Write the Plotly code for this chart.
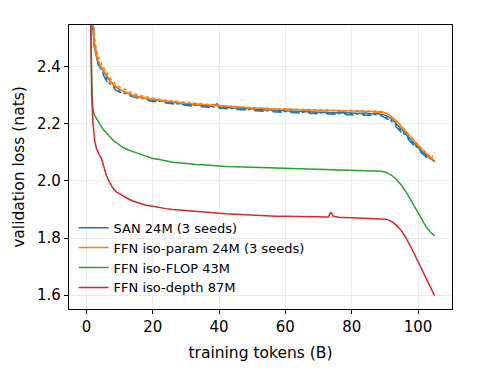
import plotly.graph_objects as go

# ---------------- data ----------------
# SAN 24M, seed 1 (solid)
san1_x = [0.3,0.8,1.3,1.8,2.3,2.8,3.3,3.8,4.5,5.5,6.5,7.5,8.5,9.5,11,12.5,14,16,18,20,22,24,26,28,30,32,34,36,38,39.4,40,42,44,46,48,50,52,54,56,58,60,62,64,66,68,70,72,74,76,78,80,82,84,86,88,89.5,91,92.5,94,95.5,97,98.5,100,101.5,103,104,105]
san1_y = [3.4,3.0,2.72,2.56,2.48,2.445,2.425,2.41,2.395,2.375,2.36,2.345,2.333,2.325,2.316,2.307,2.301,2.294,2.289,2.284,2.282,2.277,2.276,2.272,2.270,2.268,2.267,2.264,2.262,2.271,2.260,2.259,2.256,2.256,2.253,2.252,2.251,2.249,2.249,2.247,2.246,2.245,2.243,2.244,2.242,2.241,2.241,2.239,2.240,2.238,2.238,2.237,2.238,2.236,2.236,2.233,2.226,2.212,2.195,2.175,2.155,2.135,2.118,2.100,2.085,2.076,2.068]

# SAN 24M, seeds 2 and 3
san23_x = [1,1.5,2,2.5,3,3.5,4,5,6,7,8,9,10,12,14,17,20,24,28,32,36,40,45,50,55,60,65,70,75,80,85,89,91,93,95,97,99,101,103,105]
san2_y = [3.0,2.7,2.53,2.46,2.43,2.41,2.395,2.372,2.352,2.337,2.326,2.318,2.312,2.302,2.295,2.286,2.279,2.273,2.267,2.263,2.259,2.255,2.251,2.247,2.243,2.240,2.238,2.236,2.234,2.232,2.231,2.228,2.215,2.195,2.170,2.145,2.120,2.098,2.080,2.065]
san3_y = [3.05,2.72,2.55,2.47,2.44,2.415,2.40,2.378,2.358,2.342,2.331,2.322,2.315,2.305,2.298,2.289,2.283,2.276,2.270,2.266,2.262,2.258,2.253,2.249,2.246,2.243,2.241,2.239,2.237,2.236,2.234,2.231,2.219,2.200,2.175,2.150,2.125,2.102,2.083,2.070]

# FFN iso-param 24M, seed 1 (solid)
par1_x = [0.5,1,1.5,2,2.5,3,3.5,4,5,6,7,8,9,10,11.5,13,15,17,20,23,26,30,34,38,42,46,50,54,58,62,66,70,74,78,82,86,89,90.5,92,93.5,95,96.5,98,99.5,101,102.5,104,105]
par1_y = [3.4,3.0,2.72,2.56,2.47,2.44,2.425,2.41,2.39,2.37,2.355,2.34,2.33,2.322,2.313,2.305,2.297,2.291,2.286,2.281,2.278,2.273,2.269,2.266,2.262,2.259,2.256,2.254,2.252,2.250,2.249,2.248,2.247,2.246,2.245,2.245,2.243,2.238,2.226,2.210,2.192,2.172,2.152,2.132,2.113,2.096,2.079,2.070]

# FFN iso-param 24M, seeds 2 and 3
par23_x = [1,1.5,2,2.5,3,3.5,4,5,6,7,8,9,10,12,14,17,20,24,28,32,36,40,45,50,55,60,65,70,75,80,85,89,91,93,95,97,99,101,103,104,105]
par2_y = [3.1,2.75,2.57,2.48,2.445,2.425,2.41,2.385,2.366,2.350,2.338,2.329,2.321,2.311,2.302,2.292,2.286,2.279,2.274,2.270,2.266,2.262,2.258,2.254,2.251,2.249,2.247,2.246,2.245,2.244,2.243,2.241,2.230,2.212,2.188,2.162,2.136,2.112,2.090,2.078,2.072]
par3_y = [3.15,2.78,2.59,2.50,2.46,2.44,2.425,2.40,2.382,2.362,2.350,2.338,2.33,2.318,2.308,2.297,2.291,2.283,2.278,2.273,2.269,2.265,2.261,2.257,2.254,2.252,2.250,2.249,2.248,2.247,2.246,2.244,2.234,2.216,2.192,2.166,2.140,2.115,2.092,2.078,2.100]

# FFN iso-FLOP 43M
flop_x = [0.3,0.8,1.2,1.6,1.9,2.3,3,3.5,4,5,6,7,8,9,10,11,12,13,14,16,18,20,22,24,26,28,30,33,36,39,42,45,48,51,54,57,60,63,66,69,72,75,78,81,84,87,89,90.5,92,93.5,95,96.5,98,99.5,101,102.5,104,105]
flop_y = [3.3,2.9,2.6,2.36,2.26,2.235,2.22,2.212,2.20,2.182,2.168,2.155,2.143,2.134,2.125,2.118,2.112,2.107,2.103,2.095,2.087,2.079,2.075,2.070,2.066,2.064,2.061,2.058,2.056,2.053,2.051,2.050,2.049,2.047,2.046,2.045,2.043,2.042,2.041,2.040,2.040,2.038,2.037,2.037,2.036,2.036,2.034,2.030,2.020,2.005,1.985,1.960,1.930,1.898,1.866,1.838,1.817,1.808]

# FFN iso-depth 87M
depth_x = [0.3,0.7,1,1.3,1.6,2,2.5,3,3.5,4,4.5,5,5.5,6,7,8,9,10,11,12,13,14,16,18,20,22,24,26,28,30,33,36,39,42,45,48,51,54,57,60,63,66,69,72,73,73.7,74.5,76,78,81,84,87,89,90.5,92,93.5,95,96.5,98,99.5,101,102.5,104,105]
depth_y = [3.4,3.0,2.7,2.45,2.3,2.2,2.14,2.115,2.10,2.09,2.08,2.06,2.04,2.02,1.995,1.975,1.962,1.955,1.947,1.94,1.935,1.93,1.922,1.915,1.911,1.906,1.903,1.900,1.898,1.896,1.892,1.889,1.887,1.885,1.883,1.881,1.879,1.878,1.876,1.876,1.875,1.874,1.874,1.873,1.874,1.891,1.876,1.873,1.872,1.871,1.870,1.870,1.869,1.866,1.858,1.845,1.825,1.798,1.765,1.730,1.695,1.660,1.622,1.598]

x_ticks = [0, 20, 40, 60, 80, 100]
y_ticks = [1.6, 1.8, 2.0, 2.2, 2.4]

BLUE, ORANGE, GREEN, RED = "#1f77b4", "#ff7f0e", "#2ca02c", "#d62728"
FONT = "DejaVu Sans"

fig = go.Figure()

def add(x, y, color, dash, name, show):
    fig.add_trace(go.Scatter(x=x, y=y, mode="lines", name=name, showlegend=show,
                             line=dict(color=color, width=1.5, dash=dash)))

add(san1_x, san1_y, BLUE, "solid", "SAN 24M (3 seeds)", True)
add(san23_x, san2_y, BLUE, "dash", "SAN 24M (3 seeds)", False)
add(san23_x, san3_y, BLUE, "dot", "SAN 24M (3 seeds)", False)
add(par1_x, par1_y, ORANGE, "solid", "FFN iso-param 24M (3 seeds)", True)
add(par23_x, par2_y, ORANGE, "dash", "FFN iso-param 24M (3 seeds)", False)
add(par23_x, par3_y, ORANGE, "dot", "FFN iso-param 24M (3 seeds)", False)
add(flop_x, flop_y, GREEN, "solid", "FFN iso-FLOP 43M", True)
add(depth_x, depth_y, RED, "solid", "FFN iso-depth 87M", True)

axis_common = dict(showline=True, linecolor="black", linewidth=1.2, mirror=True,
                   ticks="outside", ticklen=4, tickwidth=1, tickcolor="black",
                   showgrid=True, gridcolor="#ebebeb", gridwidth=0.8, zeroline=False,
                   tickfont=dict(family=FONT, size=15, color="black"))

fig.update_xaxes(range=[-5.25, 110.25], tickvals=x_ticks, ticktext=[str(v) for v in x_ticks],
                 title=dict(text="training tokens (B)", font=dict(family=FONT, size=15.5, color="black"), standoff=12),
                 **axis_common)
fig.update_yaxes(range=[1.551, 2.547], tickvals=y_ticks, ticktext=[f"{v:.1f}" for v in y_ticks],
                 title=dict(text="validation loss (nats)", font=dict(family=FONT, size=15.5, color="black"), standoff=8),
                 **axis_common)

fig.update_layout(
    width=503, height=381,
    margin=dict(l=69, r=51, t=25, b=72),
    plot_bgcolor="white", paper_bgcolor="white",
    font=dict(family=FONT, color="black"),
    legend=dict(x=0.012, y=0.022, xanchor="left", yanchor="bottom",
                bgcolor="rgba(255,255,255,0)", borderwidth=0,
                font=dict(family=FONT, size=13, color="black"),
                tracegroupgap=0, itemwidth=30),
)

fig.write_html("out.html")
